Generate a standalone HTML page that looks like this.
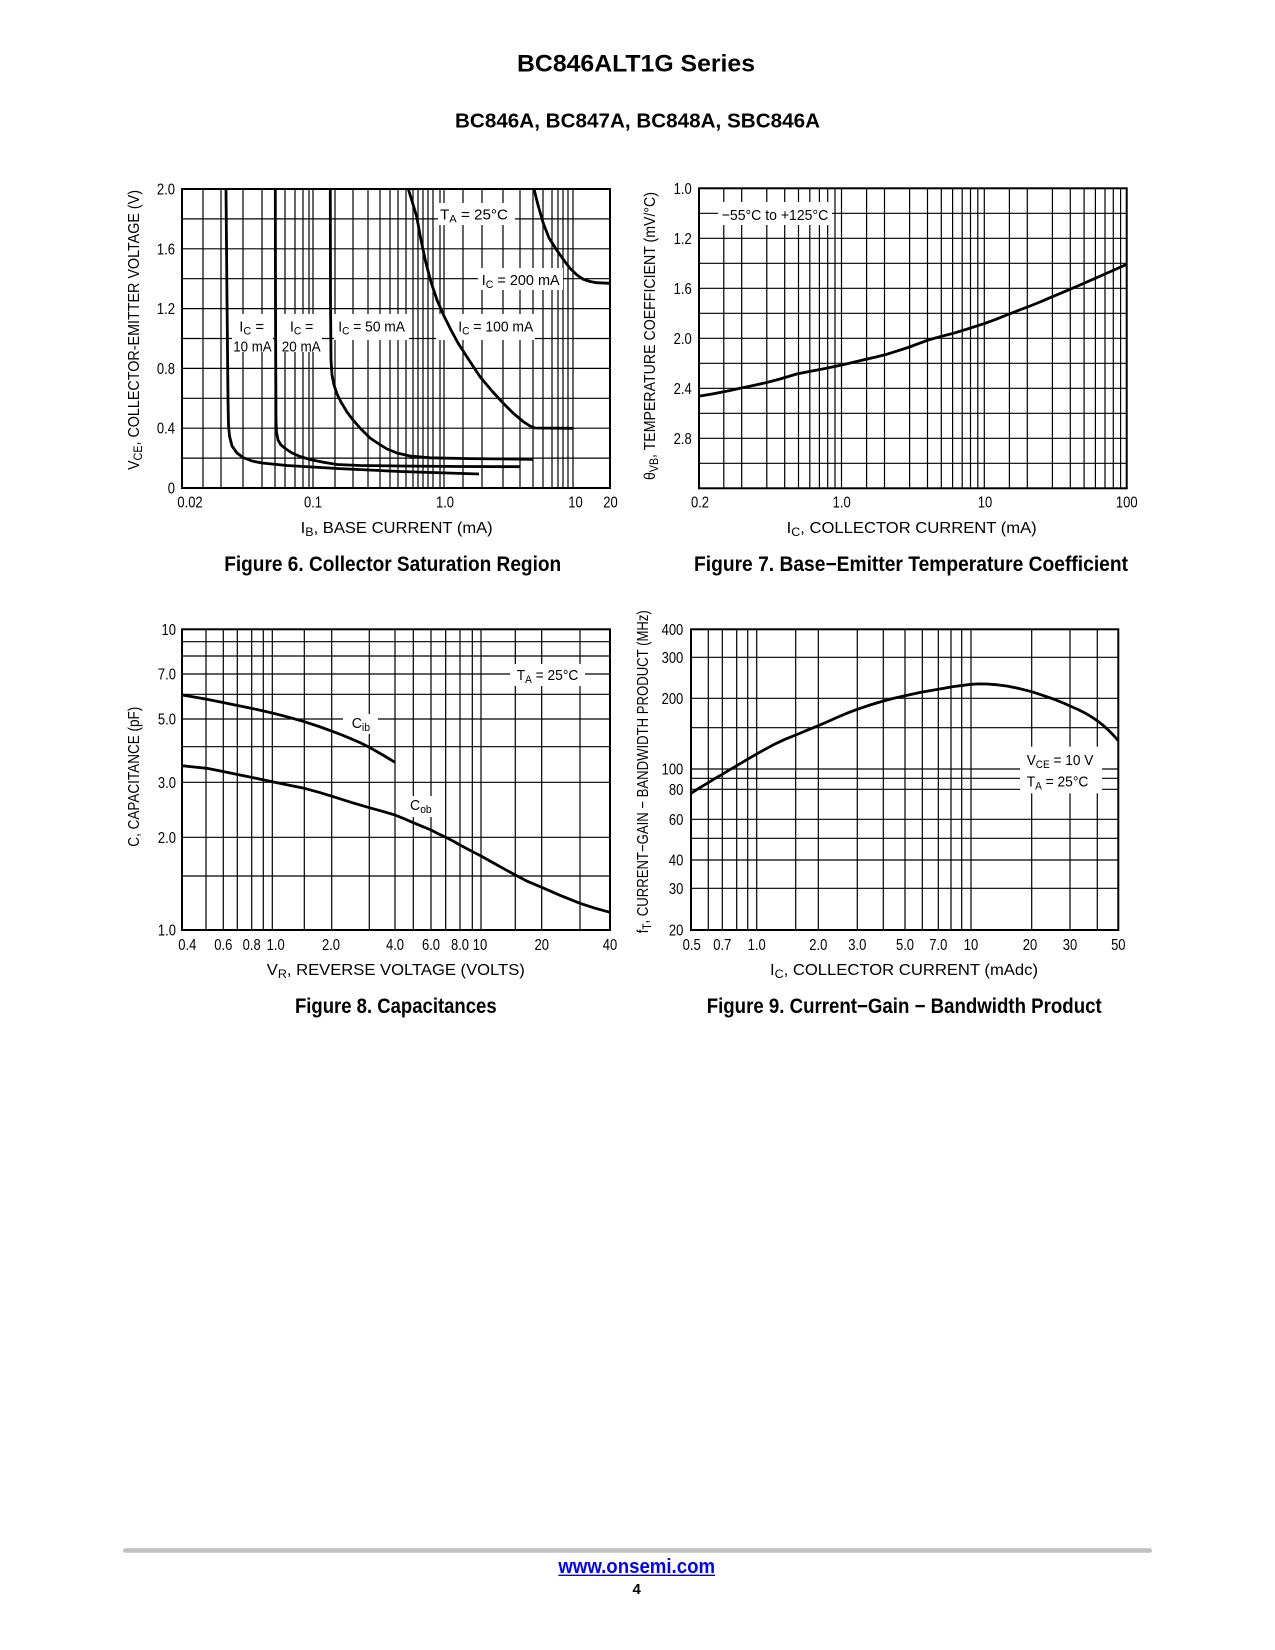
<!DOCTYPE html>
<html><head><meta charset="utf-8">
<style>
html,body{margin:0;padding:0;background:#fff;}
svg{display:block;}
text{font-family:"Liberation Sans",Arial,sans-serif;fill:#000;}
.tk{font-size:15.5px;}
.tm{text-anchor:middle;}
.te{text-anchor:end;}
.lb{font-size:15px;}
.at{font-size:16px;text-anchor:middle;}
.cap{font-size:21px;font-weight:bold;text-anchor:middle;}
.g{stroke:#000;stroke-width:1.2;fill:none;}
.fr{stroke:#000;stroke-width:2;fill:none;}
.cv{stroke:#000;stroke-width:2.8;fill:none;stroke-linejoin:round;stroke-linecap:butt;}
</style></head>
<body>
<svg width="1275" height="1650" viewBox="0 0 1275 1650" xmlns="http://www.w3.org/2000/svg">
<rect width="1275" height="1650" fill="#fff"/>

<!-- Header -->
<text x="636" y="71.7" text-anchor="middle" font-size="24" font-weight="bold" textLength="238" lengthAdjust="spacingAndGlyphs">BC846ALT1G Series</text>
<text x="637.5" y="127.3" text-anchor="middle" font-size="20" font-weight="bold" textLength="365" lengthAdjust="spacingAndGlyphs">BC846A, BC847A, BC848A, SBC846A</text>

<!-- ============ FIGURE 6 ============ -->
<path class="g" d="M203 189V488M221 189V488M243 189V488M262 189V488M275 189V488M285 189V488M295 189V488M303 189V488M309 189V488M313 189V488M335 189V488M353 189V488M368 189V488M380 189V488M390 189V488M398 189V488M406 189V488M413 189V488M418 189V488M423 189V488M428 189V488M433 189V488M440 189V488M444 189V488M463 189V488M482 189V488M503 189V488M520 189V488M533 189V488M543 189V488M552 189V488M558 189V488M563 189V488M568 189V488M573 189V488"/>
<path class="g" d="M182 218.9H610M182 248.8H610M182 278.7H610M182 308.6H610M182 338.5H610M182 368.4H610M182 398.3H610M182 428.2H610M182 458.1H610"/>
<g fill="#fff">
<rect x="438" y="203" width="77" height="22"/>
<rect x="478" y="268" width="85" height="22"/>
<rect x="436" y="314" width="99" height="26"/>
<rect x="334" y="314" width="75" height="26"/>
<rect x="232" y="314" width="41" height="38"/>
<rect x="277" y="314" width="45" height="38"/>
</g>
<rect class="fr" x="182" y="189" width="428" height="299"/>
<polyline class="cv" points="226,189 227,300 228,400 228.5,425 229.5,436 232,446 237,453 243,457.5 252,461 262,463 287,465.5 337,468.5 400,471.5 479,474"/>
<polyline class="cv" points="275.3,189 275.5,300 276,420 276.5,432 278,440 281,445 286,449 292,453 300,456.5 310,459.5 322,462 337,464.5 360,465.5 400,466 460,466.5 519.5,466.7"/>
<polyline class="cv" points="330.3,189 330.5,300 331,360 332,375 334,385 337,394 341,402 347,412 353,420 361,429 370,438 379,444 387,449 397,453 410,456 430,457.8 470,458.6 533.3,459.3"/>
<polyline class="cv" points="408.3,189 412,201 416.7,216.7 421,240 425.7,262 431,282 437,300 444,316 451,330 458,343 467,357 480,376.7 492,391 503.3,403.3 513,413 523.3,421.7 530,426 535,428 573.3,428.3"/>
<polyline class="cv" points="534,189 538,205 543.3,223.3 549,238 556.7,250 563,259 570,268.3 577,275 583.3,279.3 590,281.5 596.7,282.7 610,283.3"/>
<text class="lb" x="440" y="219.3" textLength="68" lengthAdjust="spacingAndGlyphs">T<tspan font-size="11" dy="3">A</tspan><tspan dy="-3"> = 25°C</tspan></text>
<text class="lb" x="481.7" y="285" textLength="78" lengthAdjust="spacingAndGlyphs">I<tspan font-size="11" dy="3">C</tspan><tspan dy="-3"> = 200 mA</tspan></text>
<text class="lb" x="458.3" y="331.7" textLength="75" lengthAdjust="spacingAndGlyphs">I<tspan font-size="11" dy="3">C</tspan><tspan dy="-3"> = 100 mA</tspan></text>
<text class="lb" x="338.3" y="331.7" textLength="66.7" lengthAdjust="spacingAndGlyphs">I<tspan font-size="11" dy="3">C</tspan><tspan dy="-3"> = 50 mA</tspan></text>
<text class="lb" x="239.3" y="331.7" textLength="24.7" lengthAdjust="spacingAndGlyphs">I<tspan font-size="11" dy="3">C</tspan><tspan dy="-3"> =</tspan></text>
<text class="lb" x="233.3" y="351.7" textLength="38.3" lengthAdjust="spacingAndGlyphs">10 mA</text>
<text class="lb" x="290" y="331.7" textLength="23.3" lengthAdjust="spacingAndGlyphs">I<tspan font-size="11" dy="3">C</tspan><tspan dy="-3"> =</tspan></text>
<text class="lb" x="281.7" y="351.7" textLength="39" lengthAdjust="spacingAndGlyphs">20 mA</text>
<!-- ticks -->
<g class="tk te">
<text transform="translate(175,194.5) scale(.84,1)">2.0</text>
<text transform="translate(175,254.3) scale(.84,1)">1.6</text>
<text transform="translate(175,314.1) scale(.84,1)">1.2</text>
<text transform="translate(175,373.9) scale(.84,1)">0.8</text>
<text transform="translate(175,433.7) scale(.84,1)">0.4</text>
<text transform="translate(175,493.5) scale(.84,1)">0</text>
</g>
<g class="tk tm">
<text transform="translate(190,507.5) scale(.84,1)">0.02</text>
<text transform="translate(313,507.5) scale(.84,1)">0.1</text>
<text transform="translate(445,507.5) scale(.84,1)">1.0</text>
<text transform="translate(575.5,507.5) scale(.84,1)">10</text>
<text transform="translate(610.5,507.5) scale(.84,1)">20</text>
</g>
<text class="at" x="396.7" y="533" textLength="192" lengthAdjust="spacingAndGlyphs">I<tspan font-size="12" dy="3">B</tspan><tspan dy="-3">, BASE CURRENT (mA)</tspan></text>
<text class="at" transform="translate(139,330) rotate(-90)" textLength="280" lengthAdjust="spacingAndGlyphs">V<tspan font-size="12" dy="3">CE</tspan><tspan dy="-3">, COLLECTOR-EMITTER VOLTAGE (V)</tspan></text>
<text class="cap" x="392.7" y="571" textLength="337" lengthAdjust="spacingAndGlyphs">Figure 6. Collector Saturation Region</text>

<!-- ============ FIGURE 7 ============ -->
<path class="g" d="M723.8 188.3V488.3M741.7 188.3V488.3M766.8 188.3V488.3M784.7 188.3V488.3M798.5 188.3V488.3M809.8 188.3V488.3M819.4 188.3V488.3M827.7 188.3V488.3M835 188.3V488.3M841.5 188.3V488.3M866.6 188.3V488.3M884.5 188.3V488.3M909.6 188.3V488.3M927.5 188.3V488.3M941.3 188.3V488.3M952.6 188.3V488.3M962.2 188.3V488.3M970.5 188.3V488.3M977.8 188.3V488.3M984.3 188.3V488.3M1009.4 188.3V488.3M1027.3 188.3V488.3M1052.4 188.3V488.3M1070.3 188.3V488.3M1084.1 188.3V488.3M1095.4 188.3V488.3M1105 188.3V488.3M1113.3 188.3V488.3M1120.6 188.3V488.3"/>
<path class="g" d="M699 213.3H1126.7M699 238.3H1126.7M699 263.3H1126.7M699 288.3H1126.7M699 313.3H1126.7M699 338.3H1126.7M699 363.3H1126.7M699 388.3H1126.7M699 413.3H1126.7M699 438.3H1126.7M699 463.3H1126.7"/>
<rect x="718" y="202" width="114" height="23" fill="#fff"/>
<rect class="fr" x="699" y="188.3" width="427.7" height="300"/>
<polyline class="cv" points="700,396 710,394.4 720,392.5 730,390.5 740,388.3 751,386 763.3,383.3 772,381.1 780,379 788,376.6 796.7,374 808,371.8 820,369.5 831,367.3 841.7,365 853,362.4 865,359.5 876,357 886.7,354.3 897,351.1 908,347.5 918,343.8 928.3,340 940,336.7 953.3,333.3 969,328.5 985,323.3 996,319.3 1006.7,315 1018,310.6 1030,306 1040,302 1050,297.7 1065,291.4 1080,285 1093,279.3 1105,274 1116,269.1 1126.7,264.3"/>
<text class="lb" x="721.7" y="220" textLength="106.6" lengthAdjust="spacingAndGlyphs">−55°C to +125°C</text>
<g class="tk te">
<text transform="translate(691.7,193.8) scale(.84,1)">1.0</text>
<text transform="translate(691.7,243.8) scale(.84,1)">1.2</text>
<text transform="translate(691.7,293.8) scale(.84,1)">1.6</text>
<text transform="translate(691.7,343.8) scale(.84,1)">2.0</text>
<text transform="translate(691.7,393.8) scale(.84,1)">2.4</text>
<text transform="translate(691.7,443.8) scale(.84,1)">2.8</text>
</g>
<g class="tk tm">
<text transform="translate(700,507.5) scale(.84,1)">0.2</text>
<text transform="translate(841.7,507.5) scale(.84,1)">1.0</text>
<text transform="translate(985,507.5) scale(.84,1)">10</text>
<text transform="translate(1126.7,507.5) scale(.84,1)">100</text>
</g>
<text class="at" x="911.7" y="533" textLength="250" lengthAdjust="spacingAndGlyphs">I<tspan font-size="12" dy="3">C</tspan><tspan dy="-3">, COLLECTOR CURRENT (mA)</tspan></text>
<text class="at" transform="translate(655,336) rotate(-90)" textLength="288" lengthAdjust="spacingAndGlyphs">θ<tspan font-size="12" dy="3">VB</tspan><tspan dy="-3">, TEMPERATURE COEFFICIENT (mV/°C)</tspan></text>
<text class="cap" x="911" y="571" textLength="434" lengthAdjust="spacingAndGlyphs">Figure 7. Base−Emitter Temperature Coefficient</text>

<!-- ============ FIGURE 8 ============ -->
<path class="g" d="M206 629.3V930M223.3 629.3V930M237.3 629.3V930M251.7 629.3V930M263.3 629.3V930M272.3 629.3V930M304.3 629.3V930M331.7 629.3V930M369.3 629.3V930M395 629.3V930M413.3 629.3V930M431 629.3V930M445.7 629.3V930M460 629.3V930M472.3 629.3V930M481 629.3V930M515.3 629.3V930M541.7 629.3V930M580 629.3V930"/>
<path class="g" d="M182 641.7H610M182 656H610M182 674H610M182 694.3H610M182 719H610M182 746.7H610M182 782.3H610M182 837.3H610M182 876H610"/>
<g fill="#fff">
<rect x="510" y="664" width="75" height="22"/>
<rect x="343" y="714" width="35" height="20"/>
<rect x="405" y="796" width="32" height="21"/>
</g>
<rect class="fr" x="182" y="629.3" width="428" height="300.7"/>
<polyline class="cv" points="182,695 194,697 206.7,699.3 223,702.5 240,706 257,709.5 273.3,713.3 289,717.3 304.3,721.7 319,726.5 333.3,731.7 342,735 350,738.3 360,742.6 369.3,747.3 382,754.5 395,762.3"/>
<polyline class="cv" points="182,765.7 194,767 206.7,768.3 223,771.5 240,775 256,778.3 272.3,781.7 288,785 304.3,788.3 319,792.3 333.3,796.7 351,802.3 369.3,807.7 382,811.2 395,815 404,818.7 413.3,822.7 422,826.3 431,830 438,833.6 445.7,837.3 453,841 460,845 470,850.3 481,856 498,865.5 515.3,875 528,881.6 541.7,887.3 560,895.3 580,903.3 595,908.2 610,912.3"/>
<text class="lb" x="516.7" y="680" textLength="61.6" lengthAdjust="spacingAndGlyphs">T<tspan font-size="11" dy="3">A</tspan><tspan dy="-3"> = 25°C</tspan></text>
<text class="lb" x="351.7" y="728" textLength="18.3" lengthAdjust="spacingAndGlyphs">C<tspan font-size="11" dy="3">ib</tspan></text>
<text class="lb" x="410" y="810" textLength="21.7" lengthAdjust="spacingAndGlyphs">C<tspan font-size="11" dy="3">ob</tspan></text>
<g class="tk te">
<text transform="translate(176,634.8) scale(.84,1)">10</text>
<text transform="translate(176,679.5) scale(.84,1)">7.0</text>
<text transform="translate(176,724.5) scale(.84,1)">5.0</text>
<text transform="translate(176,787.8) scale(.84,1)">3.0</text>
<text transform="translate(176,842.8) scale(.84,1)">2.0</text>
<text transform="translate(176,935.5) scale(.84,1)">1.0</text>
</g>
<g class="tk tm">
<text transform="translate(187.3,950) scale(.84,1)">0.4</text>
<text transform="translate(223.3,950) scale(.84,1)">0.6</text>
<text transform="translate(251.7,950) scale(.84,1)">0.8</text>
<text transform="translate(275.7,950) scale(.84,1)">1.0</text>
<text transform="translate(331,950) scale(.84,1)">2.0</text>
<text transform="translate(395,950) scale(.84,1)">4.0</text>
<text transform="translate(431,950) scale(.84,1)">6.0</text>
<text transform="translate(460,950) scale(.84,1)">8.0</text>
<text transform="translate(480,950) scale(.84,1)">10</text>
<text transform="translate(541.7,950) scale(.84,1)">20</text>
<text transform="translate(610,950) scale(.84,1)">40</text>
</g>
<text class="at" x="395.8" y="975" textLength="258" lengthAdjust="spacingAndGlyphs">V<tspan font-size="12" dy="3">R</tspan><tspan dy="-3">, REVERSE VOLTAGE (VOLTS)</tspan></text>
<text class="at" transform="translate(139,776.7) rotate(-90)" textLength="140" lengthAdjust="spacingAndGlyphs">C, CAPACITANCE (pF)</text>
<text class="cap" x="395.8" y="1013" textLength="201.7" lengthAdjust="spacingAndGlyphs">Figure 8. Capacitances</text>

<!-- ============ FIGURE 9 ============ -->
<path class="g" d="M708.3 629.3V930M722.3 629.3V930M736.7 629.3V930M747.7 629.3V930M756.7 629.3V930M795.7 629.3V930M818.3 629.3V930M857.3 629.3V930M883.3 629.3V930M905 629.3V930M922.3 629.3V930M938.3 629.3V930M951 629.3V930M961.7 629.3V930M971 629.3V930M1031.7 629.3V930M1070 629.3V930M1097.3 629.3V930"/>
<path class="g" d="M691 657.3H1118.3M691 698.3H1118.3M691 727.7H1118.3M691 769H1118.3M691 778.3H1118.3M691 789.3H1118.3M691 819.3H1118.3M691 838.3H1118.3M691 860H1118.3M691 888.3H1118.3"/>
<rect x="1020" y="746.7" width="82" height="46.6" fill="#fff"/>
<rect class="fr" x="691" y="629.3" width="427.3" height="300.7"/>
<polyline class="cv" points="691,793.3 700,787.6 708.3,782.7 715,778.5 722.3,774.3 729,770.2 736.7,765.7 746,760.2 756.7,754 765,749.3 775,744 785,739.3 795.7,735 807,730.3 818.3,725.7 828,721.5 838,717 848,712.8 857.3,709.3 870,705 883.3,701 894,698.2 905,695.7 921,692.3 938.3,689.3 954,686.5 971,684.3 979,683.9 986.7,684 996,684.7 1006.7,686 1019,688.5 1031.7,691.7 1043,695.4 1053.3,699 1062,702.4 1070,706 1078,709.5 1085,713 1091,716.6 1097.3,720.7 1103,725.2 1108,729.8 1113,734.8 1118.3,740.7"/>
<text class="lb" x="1026.7" y="765" textLength="66.6" lengthAdjust="spacingAndGlyphs">V<tspan font-size="11" dy="3">CE</tspan><tspan dy="-3"> = 10 V</tspan></text>
<text class="lb" x="1026.7" y="786.7" textLength="61.6" lengthAdjust="spacingAndGlyphs">T<tspan font-size="11" dy="3">A</tspan><tspan dy="-3"> = 25°C</tspan></text>
<g class="tk te">
<text transform="translate(683.3,634.8) scale(.84,1)">400</text>
<text transform="translate(683.3,662.8) scale(.84,1)">300</text>
<text transform="translate(683.3,703.8) scale(.84,1)">200</text>
<text transform="translate(683.3,774.5) scale(.84,1)">100</text>
<text transform="translate(683.3,794.8) scale(.84,1)">80</text>
<text transform="translate(683.3,824.8) scale(.84,1)">60</text>
<text transform="translate(683.3,865.5) scale(.84,1)">40</text>
<text transform="translate(683.3,893.8) scale(.84,1)">30</text>
<text transform="translate(683.3,935.5) scale(.84,1)">20</text>
</g>
<g class="tk tm">
<text transform="translate(691.7,950) scale(.84,1)">0.5</text>
<text transform="translate(722.3,950) scale(.84,1)">0.7</text>
<text transform="translate(756.7,950) scale(.84,1)">1.0</text>
<text transform="translate(818.3,950) scale(.84,1)">2.0</text>
<text transform="translate(857.3,950) scale(.84,1)">3.0</text>
<text transform="translate(905,950) scale(.84,1)">5.0</text>
<text transform="translate(938.3,950) scale(.84,1)">7.0</text>
<text transform="translate(971,950) scale(.84,1)">10</text>
<text transform="translate(1030,950) scale(.84,1)">20</text>
<text transform="translate(1070,950) scale(.84,1)">30</text>
<text transform="translate(1118.3,950) scale(.84,1)">50</text>
</g>
<text class="at" x="904" y="975" textLength="268" lengthAdjust="spacingAndGlyphs">I<tspan font-size="12" dy="3">C</tspan><tspan dy="-3">, COLLECTOR CURRENT (mAdc)</tspan></text>
<text class="at" transform="translate(648,771.7) rotate(-90)" textLength="323" lengthAdjust="spacingAndGlyphs">f<tspan font-size="12" dy="3">T</tspan><tspan dy="-3">, CURRENT−GAIN − BANDWIDTH PRODUCT (MHz)</tspan></text>
<text class="cap" x="904.2" y="1013" textLength="395" lengthAdjust="spacingAndGlyphs">Figure 9. Current−Gain − Bandwidth Product</text>

<!-- Footer -->
<rect x="123" y="1548.3" width="1029" height="4.5" rx="2.2" fill="#c0c0c0"/>
<text x="636.7" y="1573" text-anchor="middle" font-size="20" font-weight="bold" style="fill:#0000ff" textLength="156.7" lengthAdjust="spacingAndGlyphs">www.onsemi.com</text>
<line x1="558.3" y1="1575.3" x2="715" y2="1575.3" stroke="#0000ff" stroke-width="1.4"/>
<text x="636.7" y="1594" text-anchor="middle" font-size="15" font-weight="bold">4</text>
</svg>
</body></html>
